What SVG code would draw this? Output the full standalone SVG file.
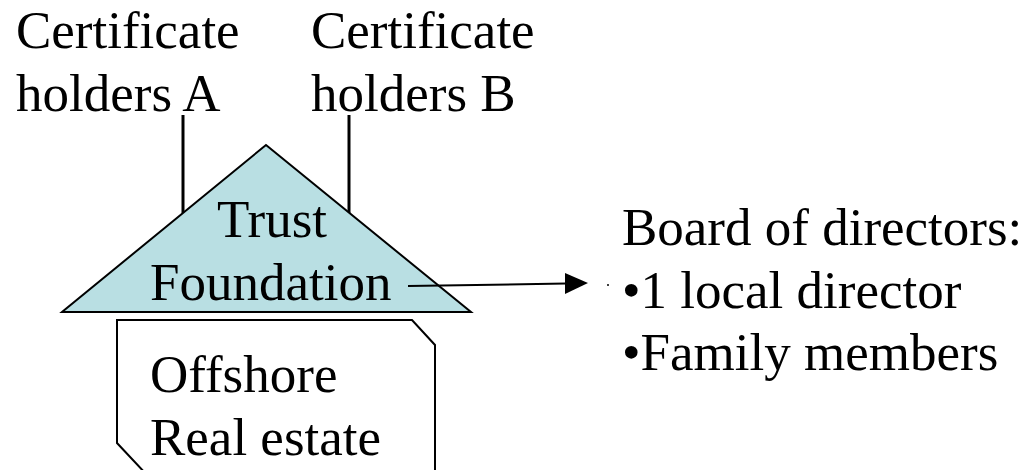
<svg xmlns="http://www.w3.org/2000/svg" width="1026" height="470" viewBox="0 0 1026 470">
<style>
.t{font-family:"Liberation Serif","Times New Roman",serif;font-size:53px;fill:#000}
.ln{stroke:#000;stroke-width:3;fill:none}
</style>
<rect width="1026" height="470" fill="#fff"/>
<g id="connectors">
<line class="ln" x1="183" y1="115" x2="183" y2="213"/>
<line class="ln" x1="349" y1="115" x2="349" y2="213"/>
</g>
<g id="holdersA"><text class="t" x="16" y="48">Certificate</text><text class="t" x="16" y="111">holders A</text></g>
<g id="holdersB"><text class="t" x="311" y="48">Certificate</text><text class="t" x="311" y="111">holders B</text></g>
<g id="realestate">
<path d="M117,320 L412,320 L435,345 L435,475 L147,475 L117,443 Z" fill="#fff" stroke="#000" stroke-width="2"/>
<text class="t" x="150" y="392">Offshore</text><text class="t" x="150" y="455">Real estate</text>
</g>
<g id="foundation">
<polygon points="266,145 471,312 62,312" fill="#B9DFE3" stroke="#000" stroke-width="2"/>
<text class="t" x="272" y="237" text-anchor="middle">Trust</text>
<text class="t" x="150" y="300">Foundation</text>
</g>
<g id="arrow">
<line x1="408" y1="286" x2="566" y2="283.5" stroke="#000" stroke-width="2"/>
<path d="M565,273 L588,283 L565,294 Z" fill="#000"/>
<circle cx="608" cy="285" r="1" fill="#000"/>
</g>
<g id="board">
<text class="t" x="622" y="245">Board of directors:</text>
<text class="t" x="622" y="308">•1 local director</text>
<text class="t" x="622" y="370">•Family members</text>
</g>
</svg>
